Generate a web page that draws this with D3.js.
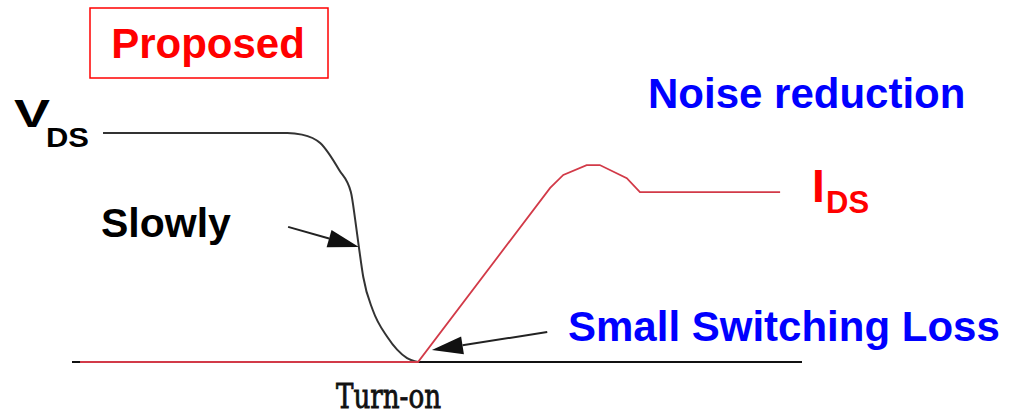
<!DOCTYPE html>
<html>
<head>
<meta charset="utf-8">
<script src="https://cdn.jsdelivr.net/npm/d3@7"></script>
<style>
    body { margin: 0; background: #fff; }
    #chart { width: 1016px; height: 416px; }
    text { font-family: "Liberation Sans", Arial, sans-serif; font-weight: bold; }
</style>
</head>
<body>
<div id="chart"></div>
<script>
/* * * * * * * * * * * * * *
*     Turn-on waveforms    *
* * * * * * * * * * * * * */

// time axis runs 0..100 (arbitrary), amplitude 0..1 (VDS off-state = 1)
let vdsTime  = [4.25, 29.5, 31.5, 34.0, 36.6, 38.2, 38.8, 39.3, 39.9, 41.2, 43.2, 45.9, 47.4];
let vdsValue = [1, 1, 0.993, 0.956, 0.838, 0.742, 0.620, 0.502, 0.371, 0.227, 0.109, 0.017, 0];

let idsTime  = [1.1, 47.4, 65.5, 67.3, 70.5, 72.3, 76.0, 77.8, 97.0];
let idsValue = [0, 0, 0.760, 0.817, 0.860, 0.860, 0.803, 0.742, 0.742];

// annotation arrows: [tailTime, tailValue, tipTime, tipValue]
let arrowSlowly = [29.6, 0.590, 39.3, 0.502];
let arrowLoss   = [65.1, 0.131, 49.3, 0.052];

let labels = {
    proposed: "Proposed",
    noise: "Noise reduction",
    slowly: "Slowly",
    loss: "Small Switching Loss",
    turnOn: "Turn-on"
};


class WaveVis {

    constructor(parentElement) {
        this.parentElement = parentElement;
        this.initVis();
    }

    initVis() {
        let vis = this;
        vis.width = 1016;
        vis.height = 416;

        vis.svg = d3.select("#" + vis.parentElement).append("svg")
            .attr("width", vis.width)
            .attr("height", vis.height);

        // scales
        vis.x = d3.scaleLinear().domain([0, 100]).range([72, 802]);
        vis.y = d3.scaleLinear().domain([0, 1]).range([362, 133]);

        vis.line = d3.line()
            .x(d => vis.x(d[0]))
            .y(d => vis.y(d[1]));

        vis.wrangleData();
    }

    wrangleData() {
        let vis = this;
        vis.vds = vdsTime.map((t, i) => [t, vdsValue[i]]);
        vis.ids = idsTime.map((t, i) => [t, idsValue[i]]);
        vis.updateVis();
    }

    // filled arrow from tail to tip
    drawArrow(a) {
        let vis = this;
        let x1 = vis.x(a[0]), y1 = vis.y(a[1]);
        let x2 = vis.x(a[2]), y2 = vis.y(a[3]);
        let ang = Math.atan2(y2 - y1, x2 - x1);
        let len = 31, half = 9;
        let bx = x2 - len * Math.cos(ang), by = y2 - len * Math.sin(ang);

        vis.svg.append("line")
            .attr("x1", x1).attr("y1", y1)
            .attr("x2", bx).attr("y2", by)
            .attr("stroke", "#222")
            .attr("stroke-width", 2);

        let pts = [
            [x2, y2],
            [bx + half * Math.sin(ang), by - half * Math.cos(ang)],
            [bx - half * Math.sin(ang), by + half * Math.cos(ang)]
        ];
        vis.svg.append("polygon")
            .attr("points", pts.map(p => p.join(",")).join(" "))
            .attr("fill", "#111");
    }

    updateVis() {
        let vis = this;

        // baseline (time axis)
        vis.svg.append("line")
            .attr("x1", vis.x(0)).attr("x2", vis.x(100))
            .attr("y1", vis.y(0)).attr("y2", vis.y(0))
            .attr("stroke", "#111")
            .attr("stroke-width", 2);

        // VDS
        vis.svg.append("path")
            .datum(vis.vds)
            .attr("d", vis.line.curve(d3.curveMonotoneX))
            .attr("fill", "none")
            .attr("stroke", "#333")
            .attr("stroke-width", 2);

        // IDS
        vis.svg.append("path")
            .datum(vis.ids)
            .attr("d", vis.line.curve(d3.curveLinear))
            .attr("fill", "none")
            .attr("stroke", "#d23a48")
            .attr("stroke-width", 1.8);

        vis.drawArrow(arrowSlowly);
        vis.drawArrow(arrowLoss);

        // Proposed box
        vis.svg.append("rect")
            .attr("x", 90).attr("y", 8)
            .attr("width", 238).attr("height", 70)
            .attr("fill", "none")
            .attr("stroke", "#ff0000")
            .attr("stroke-width", 1.5);

        vis.svg.append("text")
            .attr("x", 208).attr("y", 58)
            .attr("text-anchor", "middle")
            .attr("font-size", 42)
            .attr("fill", "#ff0000")
            .text(labels.proposed);

        vis.svg.append("text")
            .attr("x", 648).attr("y", 108)
            .attr("font-size", 42)
            .attr("fill", "#0000ff")
            .text(labels.noise);

        vis.svg.append("text")
            .attr("x", 568).attr("y", 341)
            .attr("font-size", 42)
            .attr("fill", "#0000ff")
            .text(labels.loss);

        vis.svg.append("text")
            .attr("x", 101).attr("y", 237)
            .attr("font-size", 41)
            .attr("fill", "#000")
            .text(labels.slowly);

        // V_DS label (a little wide like the source)
        vis.svg.append("text")
            .attr("x", 14).attr("y", 127)
            .attr("font-size", 38)
            .attr("textLength", 36)
            .attr("lengthAdjust", "spacingAndGlyphs")
            .attr("fill", "#000")
            .text("V");
        vis.svg.append("text")
            .attr("x", 46).attr("y", 147)
            .attr("font-size", 27)
            .attr("textLength", 43)
            .attr("lengthAdjust", "spacingAndGlyphs")
            .attr("fill", "#000")
            .text("DS");

        // I_DS label
        vis.svg.append("text")
            .attr("x", 812).attr("y", 202)
            .attr("font-size", 46)
            .attr("fill", "#ff0000")
            .text("I");
        vis.svg.append("text")
            .attr("x", 826).attr("y", 213)
            .attr("font-size", 31)
            .attr("fill", "#ff0000")
            .text("DS");

        // Turn-on
        vis.svg.append("text")
            .attr("x", 336).attr("y", 408)
            .attr("font-size", 34)
            .attr("textLength", 105)
            .attr("lengthAdjust", "spacingAndGlyphs")
            .style("font-family", "'DejaVu Serif', serif")
            .style("font-weight", "normal")
            .attr("stroke", "#111")
            .attr("stroke-width", 0.9)
            .attr("fill", "#111")
            .text(labels.turnOn);
    }
}

new WaveVis("chart");
</script>
</body>
</html>
